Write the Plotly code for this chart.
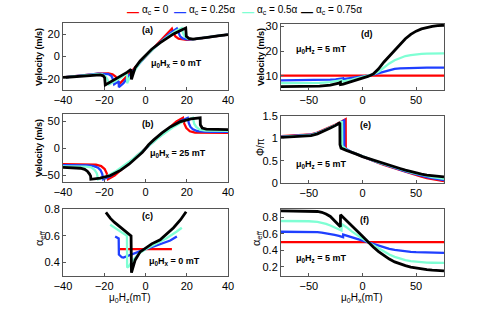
import plotly.graph_objects as go

W, H = 491, 310
COLORS = ["#ff0000", "#1f3fff", "#7fffd4", "#000000"]
WIDTHS = [2.3, 2.3, 2.3, 2.8]
LEGEND = ["α<sub>c</sub> = 0", "α<sub>c</sub> = 0.25α", "α<sub>c</sub> = 0.5α", "α<sub>c</sub> = 0.75α"]

# ---------------- (a) velocity vs Hz, Hx = 0 ----------------
a_red_x = [-40,-35,-30,-26,-23,-20,-18,-16,-14.5,-13.5,-12.8,-10,-5,0,5,10,12.8,13.5,14.5,16,18,20,23,26,30,35,40]
a_red_y = [-18.8,-18.0,-17.0,-16.0,-15.3,-15.0,-15.2,-16.0,-18.0,-21.0,-25.0,-19.6,-9.8,0,9.8,19.6,25.0,21.0,18.0,16.0,15.2,15.0,15.3,16.0,17.2,18.4,19.6]
a_blue_x = [-40,-35,-30,-26,-23,-20,-18,-16.5,-15.8,-15.2,-14,-13,-12.9,-11.5,-10.7,-8,-4,0,4,8,12,15.2,15.9,16.8,18,20,23,26,30,35,40]
a_blue_y = [-18.8,-18.0,-17.0,-16.0,-15.4,-15.3,-15.8,-17.5,-20.5,-25.0,-23.3,-22.0,-27.5,-25.6,-24.0,-17.2,-8.3,0,7.5,14.5,20.8,25.0,21.0,18.0,16.2,15.3,15.4,16.0,17.2,18.4,19.6]
a_cyan_x = [-40,-35,-30,-26,-23,-21,-19.5,-18.4,-17.6,-15,-12,-9.0,-8.9,-8,-6,-3,0,5,10,15,17.6,18.2,19,20.5,23,26,30,35,40]
a_cyan_y = [-18.8,-18.0,-17.0,-16.1,-15.7,-16.0,-17.5,-20.5,-25.0,-22.4,-19.0,-14.7,-24.0,-20.0,-14.0,-6.3,0,9.1,16.9,23.3,25.5,21.0,18.0,16.0,15.4,16.0,17.2,18.4,19.6]
a_black_x = [-40,-35,-30,-25,-22,-20.5,-19.8,-19.5,-17,-15,-12,-9,-7.0,-6.8,-6.2,-5,-2.6,0,3,7,10,13.6,17,19.5,19.8,21,23,26,30,35,40]
a_black_y = [-18.8,-18.0,-17.2,-16.5,-16.5,-17.3,-19.0,-25.5,-22.8,-21.0,-17.8,-14.2,-11.6,-20.5,-16.9,-10.0,-4.0,1.0,6.5,12.2,16.0,20.2,23.3,25.5,18.0,16.2,15.5,16.0,17.2,18.4,19.6]

# ---------------- (b) velocity vs Hz, Hx = 25 mT ----------------
b_red_x = [-40,-32,-28,-24,-21.5,-19.8,-18.8,-18.2,-15,-10,-5,0,5,10,15,18.2,18.8,19.8,21.5,24,28,32,40]
b_red_y = [-29,-29,-29.2,-30.0,-32.5,-38,-46,-57,-50,-33,-17,0,17,33,50,57,46,38,32,29.5,29.1,29,29]
b_blue_x = [-40,-32,-28,-25,-23,-21.8,-21,-20.5,-17,-12,-6,0,6,12,17,20.5,21,21.8,23,25,28,32,40]
b_blue_y = [-31,-31,-31.2,-32.5,-35.5,-40,-47,-57,-51,-38,-20,0,20,38,51,57,47,40,35.5,32.5,31.2,31,31]
b_cyan_x = [-40,-33,-29,-26.3,-24.6,-23.6,-23,-19,-14,-7,0,7,14,19,23,23.6,24.6,26.3,29,33,40]
b_cyan_y = [-33,-33.1,-33.4,-35,-40,-46,-57,-52,-41,-22,0,22,41,52,57,46,40,35,33.4,33.1,33]
b_black_x = [-40,-34,-31.5,-29.5,-28.2,-27.2,-26.6,-26.5,-22,-17,-12,-8,-4,-1.5,0,1.5,4,8,12,17,22,26.5,26.6,27.5,29.5,33,40]
b_black_y = [-35,-35.3,-36.5,-38.5,-42,-47,-51,-57,-55,-50,-40,-29,-16,-7,0,7,16,29,40,50,55,57,44,38,35.8,35.1,35]

# ---------------- (c) alpha_eff vs Hz, Hx = 0 ----------------
c_red_x = [-12.6,-6,0,6,12.8]
c_red_y = [0.5,0.5,0.5,0.5,0.5]
c_blue_x = [-14.7,-13.8,-13.0,-12.9,-11.5,-10.7,-8,-4,0,4,8,12,15.2]
c_blue_y = [0.595,0.588,0.58,0.46,0.44,0.438,0.455,0.475,0.5,0.52,0.54,0.565,0.595]
c_cyan_x = [-17.1,-15,-12,-9.0,-8.9,-8.2,-6,-3,0,5,10,15,17.6]
c_cyan_y = [0.683,0.66,0.63,0.6,0.363,0.37,0.42,0.47,0.5,0.54,0.58,0.63,0.66]
c_black_x = [-19.2,-17,-15,-12,-9,-7.0,-6.8,-6.2,-5,-2.6,0,3,7.1,10,13.6,17,19.7]
c_black_y = [0.775,0.73,0.70,0.66,0.62,0.60,0.325,0.36,0.42,0.48,0.51,0.54,0.57,0.61,0.66,0.72,0.78]

# ---------------- (d) velocity vs Hx, Hz = 5 mT ----------------
d_red_x = [-76,-40,0,40,76]
d_red_y = [10,10,10,10,10]
d_blue_x = [-76,-60,-50,-40,-30,-25,-21,-18.1,-18,-15,-10,-5,0,5,10,15,20,25,30,35,40,45,50,55,60,65,70,76]
d_blue_y = [8.1,8.1,8.1,8.2,8.4,8.55,8.75,8.95,8.6,8.75,9.1,9.5,9.8,10.0,10.4,11.0,11.8,12.4,12.8,13.0,13.1,13.15,13.2,13.2,13.25,13.25,13.3,13.3]
d_cyan_x = [-76,-60,-50,-40,-30,-25,-22,-19.6,-19.5,-17,-15,-10,-5,0,5,10,15,20,25,30,35,40,45,50,55,60,65,70,76]
d_cyan_y = [7.0,7.0,7.0,7.1,7.4,7.7,7.95,8.2,7.6,7.75,7.9,8.4,9.0,9.5,9.9,10.5,11.6,13.3,15.0,16.3,17.3,18.0,18.4,18.7,18.85,18.95,19.0,19.05,19.1]
d_black_x = [-76,-60,-50,-40,-30,-25,-22,-20.6,-20.5,-18,-15,-10,-5,0,5,10,15,20,25,30,35,40,45,50,55,60,65,70,76]
d_black_y = [5.6,5.6,5.65,5.8,6.2,6.6,7.0,7.3,6.4,6.6,7.0,7.7,8.4,9.1,9.7,10.7,12.8,15.6,18.0,20.4,22.8,25.0,26.8,28.1,29.0,29.6,30.0,30.3,30.5]

# ---------------- (e) Phi/pi vs Hx, Hz = 5 mT ----------------
e_red_x = [-76,-65,-55,-48,-42,-36,-30,-25,-20,-15.7,-15.6,-15,-10,-5,0,5,10,15,20,25,30,35,40,45,50,55,60,65,70,76]
e_red_y = [1.05,1.06,1.07,1.09,1.13,1.19,1.25,1.31,1.37,1.43,0.76,0.745,0.69,0.64,0.585,0.54,0.495,0.45,0.405,0.365,0.325,0.285,0.245,0.208,0.172,0.14,0.11,0.085,0.06,0.04]
e_blue_x = [-76,-65,-55,-48,-42,-36,-30,-25,-20,-17.1,-17,-15,-10,-5,0,5,10,15,20,25,30,35,40,45,50,55,60,65,70,76]
e_blue_y = [1.04,1.05,1.06,1.08,1.12,1.18,1.24,1.30,1.36,1.40,0.80,0.76,0.69,0.64,0.587,0.545,0.50,0.458,0.415,0.375,0.337,0.30,0.262,0.226,0.192,0.16,0.132,0.11,0.088,0.065]
e_cyan_x = [-76,-65,-55,-48,-42,-36,-30,-25,-21,-19.1,-19,-15,-10,-5,0,5,10,15,20,25,30,35,40,45,50,55,60,65,70,76]
e_cyan_y = [1.03,1.04,1.05,1.07,1.115,1.175,1.235,1.295,1.345,1.38,0.83,0.745,0.69,0.64,0.588,0.547,0.505,0.463,0.422,0.383,0.345,0.31,0.275,0.24,0.21,0.18,0.155,0.133,0.113,0.095]
e_black_x = [-76,-65,-55,-48,-42,-36,-30,-25,-21.1,-21,-20,-15,-10,-5,0,5,10,15,20,25,30,35,40,45,50,55,60,65,70,76]
e_black_y = [1.02,1.03,1.04,1.06,1.10,1.16,1.23,1.29,1.35,0.86,0.78,0.73,0.69,0.64,0.59,0.55,0.51,0.47,0.43,0.395,0.36,0.325,0.29,0.255,0.225,0.197,0.175,0.158,0.145,0.135]

# ---------------- (f) alpha_eff vs Hx, Hz = 5 mT ----------------
f_red_x = [-76,-40,0,40,76]
f_red_y = [0.5,0.5,0.5,0.5,0.5]
f_blue_x = [-76,-60,-50,-42,-38,-34,-30,-26,-22,-18.1,-18,-15,-10,-5,0,5,10,15,20,25,30,35,40,45,50,55,60,65,70,76]
f_blue_y = [0.625,0.625,0.623,0.62,0.615,0.608,0.598,0.587,0.575,0.56,0.59,0.578,0.552,0.53,0.51,0.495,0.475,0.455,0.435,0.418,0.405,0.395,0.388,0.382,0.378,0.375,0.373,0.372,0.371,0.37]
f_cyan_x = [-76,-60,-50,-42,-38,-34,-30,-26,-22,-19.6,-19.5,-17,-15,-10,-5,0,5,10,15,20,25,30,35,40,45,50,55,60,65,70,76]
f_cyan_y = [0.755,0.755,0.752,0.745,0.735,0.72,0.70,0.68,0.655,0.64,0.72,0.70,0.68,0.63,0.58,0.54,0.50,0.46,0.42,0.385,0.35,0.322,0.30,0.283,0.27,0.262,0.256,0.252,0.25,0.249,0.248]
f_black_x = [-76,-60,-50,-42,-38,-34,-30,-26,-22.5,-20.6,-20.5,-18,-15,-10,-5,0,5,10,15,20,25,30,35,40,45,50,55,60,65,70,76]
f_black_y = [0.877,0.877,0.875,0.87,0.86,0.84,0.81,0.76,0.71,0.685,0.83,0.80,0.76,0.70,0.635,0.57,0.50,0.44,0.385,0.335,0.295,0.26,0.235,0.215,0.198,0.186,0.176,0.168,0.162,0.157,0.153]

PANELS = [
    ("a", [(a_red_x, a_red_y), (a_blue_x, a_blue_y), (a_cyan_x, a_cyan_y), (a_black_x, a_black_y)]),
    ("b", [(b_red_x, b_red_y), (b_blue_x, b_blue_y), (b_cyan_x, b_cyan_y), (b_black_x, b_black_y)]),
    ("c", [(c_red_x, c_red_y), (c_blue_x, c_blue_y), (c_cyan_x, c_cyan_y), (c_black_x, c_black_y)]),
    ("d", [(d_red_x, d_red_y), (d_blue_x, d_blue_y), (d_cyan_x, d_cyan_y), (d_black_x, d_black_y)]),
    ("e", [(e_red_x, e_red_y), (e_blue_x, e_blue_y), (e_cyan_x, e_cyan_y), (e_black_x, e_black_y)]),
    ("f", [(f_red_x, f_red_y), (f_blue_x, f_blue_y), (f_cyan_x, f_cyan_y), (f_black_x, f_black_y)]),
]

# axis layout (pixel boxes in window coordinates)
AX = {
    "a": dict(xd=(63, 228), yd=(23, 90), xr=[-40, 40], yr=[-30, 30], xt=[-40, -20, 0, 20, 40], yt=[-20, 0, 20]),
    "b": dict(xd=(63, 228), yd=(114, 182), xr=[-40, 40], yr=[-62, 64], xt=[-40, -20, 0, 20, 40], yt=[-50, 0, 50]),
    "c": dict(xd=(63, 228), yd=(209, 276), xr=[-40, 40], yr=[0.3, 0.8], xt=[-40, -20, 0, 20, 40], yt=[0.4, 0.6, 0.8]),
    "d": dict(xd=(281, 444), yd=(24, 90), xr=[-76, 76], yr=[4.2, 31], xt=[-50, 0, 50], yt=[10, 20, 30]),
    "e": dict(xd=(281, 444), yd=(116, 183), xr=[-76, 76], yr=[0, 1.5], xt=[-50, 0, 50], yt=[0, 0.5, 1, 1.5]),
    "f": dict(xd=(281, 444), yd=(209, 276), xr=[-76, 76], yr=[0.09, 0.9], xt=[-50, 0, 50], yt=[0.2, 0.4, 0.6, 0.8]),
}

def PX(x):
    return x / W

def PY(y):
    return 1 - y / H

FONT = "Liberation Sans, Arial, sans-serif"
fig = go.Figure()
layout = dict(
    template="none",
    width=W, height=H, margin=dict(l=0, r=0, t=0, b=0, pad=0, autoexpand=False),
    paper_bgcolor="white", plot_bgcolor="white", showlegend=False,
    font=dict(family=FONT, size=11, color="black"),
)

for i, (key, series) in enumerate(PANELS):
    n = "" if i == 0 else str(i + 1)
    a = AX[key]
    for (xs, ys), col, lw in zip(series, COLORS, WIDTHS):
        fig.add_trace(go.Scatter(x=xs, y=ys, mode="lines", line=dict(color=col, width=lw),
                                 xaxis="x" + n, yaxis="y" + n, showlegend=False, hoverinfo="skip"))
    common = dict(showline=True, mirror=True, linecolor="#555", linewidth=1, ticks="inside",
                  ticklen=3, tickcolor="#555", showgrid=False, zeroline=False, automargin=False,
                  tickfont=dict(family=FONT, size=11, color="black"))
    layout["xaxis" + n] = dict(domain=[PX(a["xd"][0]), PX(a["xd"][1])], range=a["xr"],
                               tickvals=a["xt"], anchor="y" + n, **common)
    layout["yaxis" + n] = dict(domain=[PY(a["yd"][1]), PY(a["yd"][0])], range=a["yr"],
                               tickvals=a["yt"], anchor="x" + n, **common)

ann = []
def text(px, py, s, size=9, bold=False, angle=0, xanchor="center"):
    ann.append(dict(x=PX(px), y=PY(py), xref="paper", yref="paper", text=("<b>%s</b>" % s) if bold else s,
                    showarrow=False, textangle=angle, xanchor=xanchor, yanchor="middle",
                    font=dict(family=FONT, size=size, color="black")))

# panel letters
for lab, x0, y0 in [("(a)", 147, 30), ("(b)", 148, 124), ("(c)", 147, 216),
                    ("(d)", 367, 34), ("(e)", 365, 125), ("(f)", 364, 220)]:
    text(x0, y0, lab, size=9, bold=True)

# field annotations
text(176, 64, "μ<sub>0</sub>H<sub>x</sub> = 0 mT", bold=True)
text(178, 153, "μ<sub>0</sub>H<sub>x</sub> = 25 mT", bold=True)
text(174, 261, "μ<sub>0</sub>H<sub>x</sub> = 0 mT", bold=True)
text(321, 49, "μ<sub>0</sub>H<sub>z</sub> = 5 mT", bold=True)
text(321, 164, "μ<sub>0</sub>H<sub>z</sub> = 5 mT", bold=True)
text(321, 258, "μ<sub>0</sub>H<sub>z</sub> = 5 mT", bold=True)

# axis titles
text(39, 57, "Velocity (m/s)", size=9, bold=True, angle=-90)
text(39, 148, "Velocity (m/s)", size=9, bold=True, angle=-90)
text(40, 238, "α<sub>eff</sub>", size=11, angle=-90)
text(261, 57, "Velocity (m/s)", size=9, bold=True, angle=-90)
text(261, 147, "Φ/π", size=10, angle=-90)
text(257, 238, "α<sub>eff</sub>", size=11, angle=-90)
text(130, 298, "μ<sub>0</sub>H<sub>z</sub>(mT)", size=10)
text(362, 298, "μ<sub>0</sub>H<sub>x</sub>(mT)", size=10)

# legend (top)
for (x0, col, lab) in zip([125, 172, 240, 299], COLORS, LEGEND):
    ann.append(dict(x=PX(x0), y=PY(12), xref="paper", yref="paper", showarrow=False,
                    xanchor="left", yanchor="middle", text="<b>—</b>",
                    font=dict(family=FONT, size=12, color=col)))
    ann.append(dict(x=PX(x0 + 15), y=PY(10), xref="paper", yref="paper", showarrow=False,
                    xanchor="left", yanchor="middle", text=lab,
                    font=dict(family=FONT, size=10, color="black")))

layout["annotations"] = ann
fig.update_layout(**layout)
# remove the page's default 8px body margin so the figure sits at the window origin
fig.write_html("out.html", config={"displayModeBar": False},
               post_script="document.body.style.margin='0px';document.body.style.overflow='hidden';")
